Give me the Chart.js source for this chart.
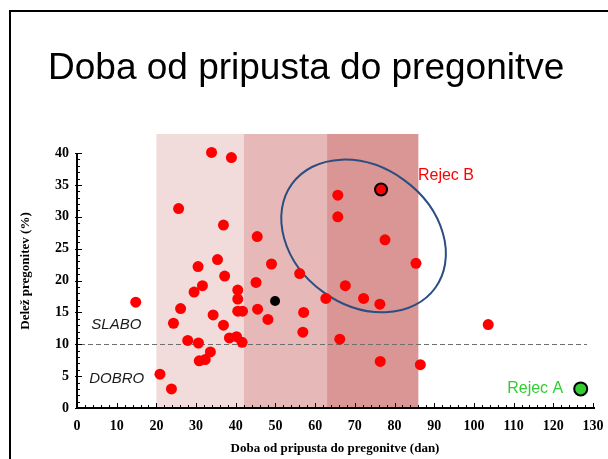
<!DOCTYPE html>
<html>
<head>
<meta charset="utf-8">
<title>Doba od pripusta do pregonitve</title>
<script src="https://cdn.jsdelivr.net/npm/chart.js@4"></script>
<style>
  html, body { margin: 0; padding: 0; background: #fff; }
  #wrap { width: 608px; height: 459px; position: relative; }
</style>
</head>
<body>
<div id="wrap"><canvas id="graf"></canvas></div>
<script>
// Črede: doba od pripusta do pregonitve (dni) in delež pregonitev (%)
const dobaDni = [14.8, 20.9, 23.8, 24.3, 25.6, 26.1, 27.9, 29.5, 30.5, 30.6, 30.8, 31.6,
  32.3, 33.6, 33.9, 34.3, 35.4, 36.9, 36.9, 37.2, 38.4, 38.9, 40.2, 40.5, 40.5, 40.5,
  41.7, 41.6, 45.4, 45.1, 45.5, 48.1, 49.0, 56.1, 57.1, 56.9, 62.7, 65.7, 65.7, 66.2,
  67.6, 72.2, 76.3, 76.4, 77.6, 85.4, 86.5, 103.6];
const delez = [16.6, 5.3, 3.0, 13.3, 31.3, 15.6, 10.6, 18.2, 22.2, 10.2, 7.4, 19.2,
  7.6, 8.8, 40.1, 14.6, 23.3, 28.7, 13.0, 20.7, 11.0, 39.3, 11.2, 18.5, 17.1, 15.2,
  15.2, 10.3, 26.9, 19.7, 15.5, 13.9, 22.6, 21.1, 15.0, 11.9, 17.2, 33.4, 30.0, 10.8,
  19.2, 17.2, 16.3, 7.3, 26.4, 22.7, 6.8, 13.1];

// povprečje (črna točka)
const povprecjeX = [49.9];
const povprecjeY = [16.8];

// izpostavljena rejca
const rejecBX = [76.6];
const rejecBY = [34.3];
const rejecAX = [126.9];
const rejecAY = [3.0];

// osi
const xTicks = [0, 10, 20, 30, 40, 50, 60, 70, 80, 90, 100, 110, 120, 130];
const yTicks = [0, 5, 10, 15, 20, 25, 30, 35, 40];

// obarvani pasovi (dni)
const pasZacetek = [20, 42, 63];
const pasKonec = [42, 63, 86];
const pasVrh = 43;
const prag = 10;

const pasBarve = ['#f2dcdb', '#e6b9b8', '#d99694'];
const serif = '"Liberation Serif", "Times New Roman", serif';
const sans = '"Liberation Sans", Arial, sans-serif';

function tocke(xs, ys) {
  return xs.map(function (x, i) { return { x: x, y: ys[i] }; });
}

const dekor = {
  id: 'dekor',
  beforeDatasetsDraw(chart) {
    const { ctx, scales: { x, y } } = chart;
    ctx.save();
    // pasovi
    const yTop = y.getPixelForValue(pasVrh);
    const yBot = y.getPixelForValue(0);
    for (let i = 0; i < pasZacetek.length; i++) {
      const x0 = x.getPixelForValue(pasZacetek[i]);
      const x1 = x.getPixelForValue(pasKonec[i]);
      ctx.fillStyle = pasBarve[i];
      ctx.fillRect(x0, yTop, x1 - x0, yBot - yTop);
    }
    // prag 10 %
    const py = Math.round(y.getPixelForValue(prag)) + 0.5;
    ctx.setLineDash([5, 3]);
    ctx.strokeStyle = '#6e6e6e';
    ctx.lineWidth = 1;
    ctx.beginPath();
    ctx.moveTo(x.getPixelForValue(0) + 3, py);
    ctx.lineTo(x.getPixelForValue(128.5), py);
    ctx.stroke();
    ctx.setLineDash([]);
    // elipsa okrog skupine
    const ux = x.getPixelForValue(1) - x.getPixelForValue(0);
    ctx.strokeStyle = '#2a4e80';
    ctx.lineWidth = 2;
    ctx.beginPath();
    ctx.ellipse(x.getPixelForValue(72.2), y.getPixelForValue(27.0),
      22.3 * ux, 17.4 * ux, 36 * Math.PI / 180, 0, 2 * Math.PI);
    ctx.stroke();
    ctx.restore();
  },
  afterDraw(chart) {
    const { ctx, scales: { x, y } } = chart;
    ctx.save();
    // osi
    const x0 = x.getPixelForValue(0);
    const yb = y.getPixelForValue(0);
    ctx.strokeStyle = '#000';
    ctx.lineWidth = 2;
    ctx.beginPath();
    ctx.moveTo(x0, y.getPixelForValue(40));
    ctx.lineTo(x0, yb);
    ctx.lineTo(x.getPixelForValue(130) + 2, yb);
    ctx.stroke();
    ctx.lineWidth = 1;
    ctx.beginPath();
    for (let v = 0; v <= 40; v++) {
      const p = Math.round(y.getPixelForValue(v)) + 0.5;
      ctx.moveTo(x0 - (v % 5 === 0 ? 2 : 0), p);
      ctx.lineTo(x0 + (v % 5 === 0 ? 5 : 3), p);
    }
    for (let v = 0; v <= 130; v += 2) {
      const p = Math.round(x.getPixelForValue(v)) + 0.5;
      ctx.moveTo(p, yb);
      ctx.lineTo(p, yb - (v % 10 === 0 ? 5 : 3));
    }
    ctx.stroke();

    // napisi
    ctx.textBaseline = 'middle';
    ctx.textAlign = 'center';
    ctx.fillStyle = '#1a1a1a';
    ctx.font = 'italic 15px ' + sans;
    ctx.fillText('SLABO', x.getPixelForValue(9.9), y.getPixelForValue(13.0));
    ctx.fillText('DOBRO', x.getPixelForValue(10.0), y.getPixelForValue(4.55));

    ctx.font = '16px ' + sans;
    ctx.textAlign = 'left';
    ctx.fillStyle = '#ff0000';
    ctx.fillText('Rejec B', x.getPixelForValue(85.9), y.getPixelForValue(36.4));
    ctx.textAlign = 'right';
    ctx.fillStyle = '#33cc33';
    ctx.fillText('Rejec A', x.getPixelForValue(122.5), y.getPixelForValue(3.1));

    // naslov
    ctx.textAlign = 'left';
    ctx.textBaseline = 'alphabetic';
    ctx.fillStyle = '#000';
    ctx.font = '37px ' + sans;
    ctx.fillText('Doba od pripusta do pregonitve', 48, 79);

    // okvir
    ctx.lineWidth = 2;
    ctx.strokeStyle = '#000';
    ctx.strokeRect(10, 11, 640, 480);
    ctx.restore();
  }
};

const ctx = document.getElementById('graf').getContext('2d');

new Chart(ctx, {
  type: 'scatter',
  data: {
    datasets: [
      {
        label: 'Črede',
        data: tocke(dobaDni, delez),
        backgroundColor: '#ff0000',
        borderWidth: 0,
        pointRadius: 5.5
      },
      {
        label: 'Povprečje',
        data: tocke(povprecjeX, povprecjeY),
        backgroundColor: '#000',
        borderWidth: 0,
        pointRadius: 5
      },
      {
        label: 'Rejec B',
        data: tocke(rejecBX, rejecBY),
        backgroundColor: '#ff0000',
        borderColor: '#000',
        borderWidth: 2,
        pointRadius: 6
      },
      {
        label: 'Rejec A',
        data: tocke(rejecAX, rejecAY),
        backgroundColor: '#33cc33',
        borderColor: '#000',
        borderWidth: 2,
        pointRadius: 6.5
      }
    ]
  },
  options: {
    responsive: true,
    maintainAspectRatio: false,
    animation: false,
    layout: { padding: { top: 134, right: 15, left: 0, bottom: 0 } },
    plugins: {
      legend: { display: false },
      tooltip: { enabled: false }
    },
    scales: {
      x: {
        type: 'linear',
        min: 0,
        max: 130,
        grid: { display: false, drawTicks: false },
        border: { display: false },
        afterBuildTicks: function (s) { s.ticks = xTicks.map(function (v) { return { value: v }; }); },
        afterFit: function (s) { s.height = 51; s.paddingLeft = 0; s.paddingRight = 0; },
        ticks: {
          color: '#000',
          padding: 10,
          maxRotation: 0,
          autoSkip: false,
          font: { family: serif, size: 14, weight: 'bold' }
        },
        title: {
          display: true,
          text: 'Doba od pripusta do pregonitve (dan)',
          color: '#000',
          padding: { top: 3, bottom: 3 },
          font: { family: serif, size: 13, weight: 'bold' }
        }
      },
      y: {
        min: 0,
        max: pasVrh,
        grid: { display: false, drawTicks: false },
        border: { display: false },
        afterBuildTicks: function (s) { s.ticks = yTicks.map(function (v) { return { value: v }; }); },
        afterFit: function (s) { s.width = 77; s.paddingTop = 0; s.paddingBottom = 0; },
        ticks: {
          color: '#000',
          padding: 8,
          font: { family: serif, size: 14, weight: 'bold' }
        },
        title: {
          display: true,
          text: 'Delež pregonitev (%)',
          color: '#000',
          padding: { top: 18, bottom: 18 },
          font: { family: serif, size: 13, weight: 'bold' }
        }
      }
    }
  },
  plugins: [dekor]
});
</script>
</body>
</html>
